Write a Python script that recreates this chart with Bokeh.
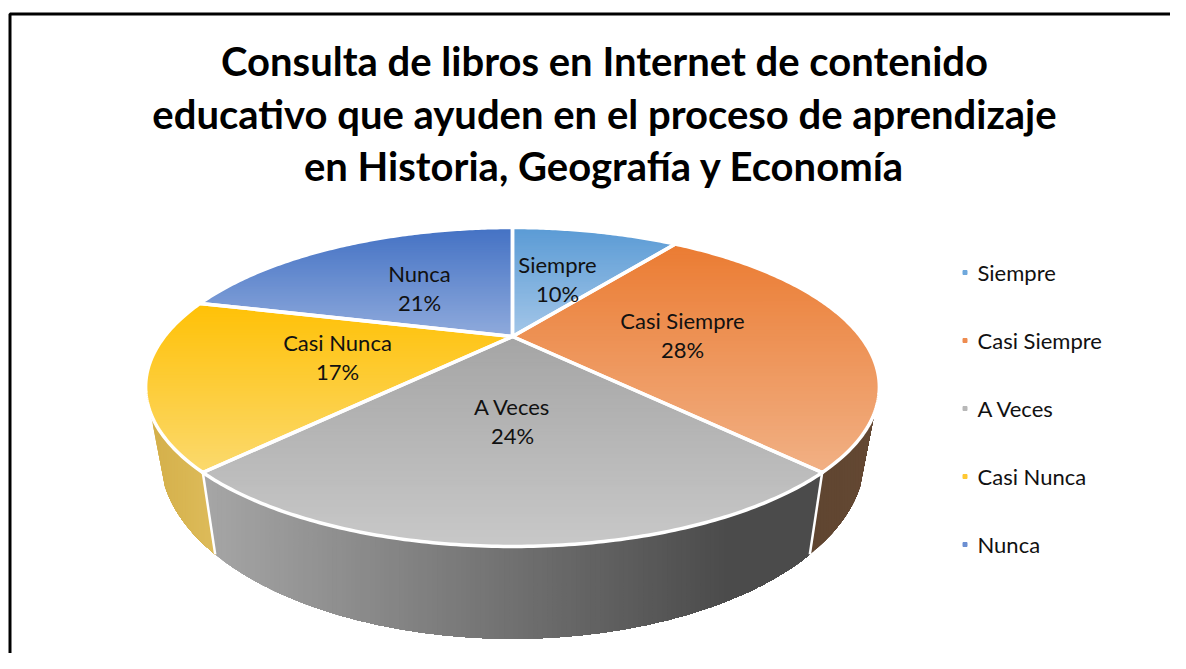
import math
from bokeh.plotting import figure
from bokeh.models import Range1d
from bokeh.core.properties import value
from bokeh.embed import file_html
from bokeh.resources import INLINE

# ---- data ----
categories = ["Siempre", "Casi Siempre", "A Veces", "Casi Nunca", "Nunca"]
percents = [10, 28, 24, 17, 21]
title_lines = ["Consulta de libros en Internet de contenido",
               "educativo que ayuden en el proceso de aprendizaje",
               "en Historia, Geografía y Economía"]

# ---- styles ----
top_from = ["#5B9BD5", "#EB7C33", "#A5A5A5", "#FFC107", "#4472C4"]
top_to = ["#A3C6E8", "#F1B084", "#C8C8C8", "#FBD96D", "#8FAADC"]
wall_from = [None, "#5F4530", "#A6A6A6", "#D4B04A", None]
wall_to = [None, "#644833", "#4B4B4B", "#DDBB5A", None]
legend_colors = ["#6FA8DC", "#EE8C50", "#B8B8B8", "#FFC833", "#6C8FD2"]

# ---- layout (pixels of the picture) ----
W, H = 1170, 653
CX, CY = 512.0, 336.0      # projected pie centre
PX, PY, K = 348.0, 143.5, 0.3166  # perspective of the disc
DEPTH, SHRINK = 63.0, 0.96  # wall height and bottom-edge shrink
VIS0, VIS1 = 117.0, 243.0   # visible part of the rim, degrees clockwise from top
FONT = value("Lato")
TITLE_PX, LABEL_PX = "40px", "22px"
title_y = [60, 113, 165]
label_xy = [(557, 278), (682, 334), (512, 420), (337, 356), (419, 287)]
label_gap = 14.5
legend_y = [272, 340, 408, 476, 544]


def hexrgb(c):
    return tuple(int(c[i:i + 2], 16) for i in (1, 3, 5))


def mix(a, b, t):
    ra, rb = hexrgb(a), hexrgb(b)
    return "#%02x%02x%02x" % tuple(round(x + (y - x) * t) for x, y in zip(ra, rb))


def project(deg):
    th = math.radians(deg)
    X, Y = math.sin(th), math.cos(th)
    w = 1 + K * Y
    return CX + PX * X / w, CY - PY * Y / w


def project_low(deg):
    th = math.radians(deg)
    x, y = project(deg)
    w = 1 + K * math.cos(th)
    return CX + (x - CX) * SHRINK, y + DEPTH / w


def arc(a0, a1, fn=project):
    n = max(2, int(abs(a1 - a0) * 1.5))
    return [fn(a0 + (a1 - a0) * i / n) for i in range(n + 1)]


def clip(poly, axis, c):
    """Keep the part of poly whose coordinate on axis is >= c."""
    out = []
    for i, p in enumerate(poly):
        q = poly[(i + 1) % len(poly)]
        pin, qin = p[axis] >= c, q[axis] >= c
        if pin:
            out.append(p)
        if pin != qin:
            t = (c - p[axis]) / (q[axis] - p[axis])
            out.append((p[0] + (q[0] - p[0]) * t, p[1] + (q[1] - p[1]) * t))
    return out


def gradient(poly, axis, c0, c1, lo=None, hi=None, steps=64):
    """Nested bands: each one covers from its start to the far side of poly."""
    vals = [p[axis] for p in poly]
    lo = min(vals) if lo is None else lo
    hi = max(vals) if hi is None else hi
    xs, ys, cs = [], [], []
    for i in range(steps):
        t = i / (steps - 1)
        band = poly if i == 0 else clip(poly, axis, lo + (hi - lo) * i / steps)
        if len(band) >= 3:
            xs.append([p[0] for p in band])
            ys.append([p[1] for p in band])
            cs.append(mix(c0, c1, t))
    return xs, ys, cs


total = sum(percents)
edges = [0.0]
for v in percents:
    edges.append(edges[-1] + v / total * 360)

p = figure(width=W, height=H, x_range=Range1d(0, W), y_range=Range1d(H, 0),
           output_backend="svg", toolbar_location=None, min_border=0,
           outline_line_color=None, background_fill_color="white")
p.axis.visible = False
p.grid.visible = False

# frame of the chart area
p.line([9.5, 9.5, W], [H, 13.5, 13.5], line_color="#000000", line_width=3)

# rim walls
for i in range(len(percents)):
    a0, a1 = max(edges[i], VIS0), min(edges[i + 1], VIS1)
    if a1 <= a0 or wall_from[i] is None:
        continue
    poly = arc(a0, a1) + arc(a1, a0, project_low)
    vals = [q[0] for q in poly]
    hi = min(vals) + (max(vals) - min(vals)) * (0.85 if i == 2 else 1.0)
    xs, ys, cs = gradient(poly, 0, wall_from[i], wall_to[i], min(vals), hi, steps=110 if i == 2 else 24)
    p.patches(xs, ys, fill_color=cs, line_color=None)

# white seams between walls
for a in edges[1:5]:
    if VIS0 < a < VIS1:
        p.line(*zip(project(a), project_low(a)), line_color="white", line_width=2.5)

# top of the disc
outlines = []
for i in range(len(percents)):
    poly = [(CX, CY)] + arc(edges[i], edges[i + 1])
    xs, ys, cs = gradient(poly, 1, top_from[i], top_to[i])
    p.patches(xs, ys, fill_color=cs, line_color=None)
    outlines.append(poly)
p.patches([[q[0] for q in o] for o in outlines], [[q[1] for q in o] for o in outlines],
          fill_color=None, line_color="white", line_width=3.5, line_join="round")

# slice labels
for name, pct, (lx, ly) in zip(categories, percents, label_xy):
    p.text([lx, lx], [ly - label_gap, ly + label_gap], text=[name, f"{pct}%"],
           text_align="center", text_baseline="middle",
           text_font=FONT, text_font_size=LABEL_PX, text_color="#111111")

# title
p.text([604] * 3, title_y, text=title_lines, text_align="center", text_baseline="middle",
       text_font=FONT, text_font_style="bold", text_font_size=TITLE_PX, text_color="#000000")

# legend
p.scatter([964.5] * 5, legend_y, marker="square", size=4, color=legend_colors)
p.text([977] * 5, legend_y, text=categories, text_align="left", text_baseline="middle",
       text_font=FONT, text_font_size=LABEL_PX, text_color="#111111")

open("out.html", "w").write(file_html(p, INLINE))
